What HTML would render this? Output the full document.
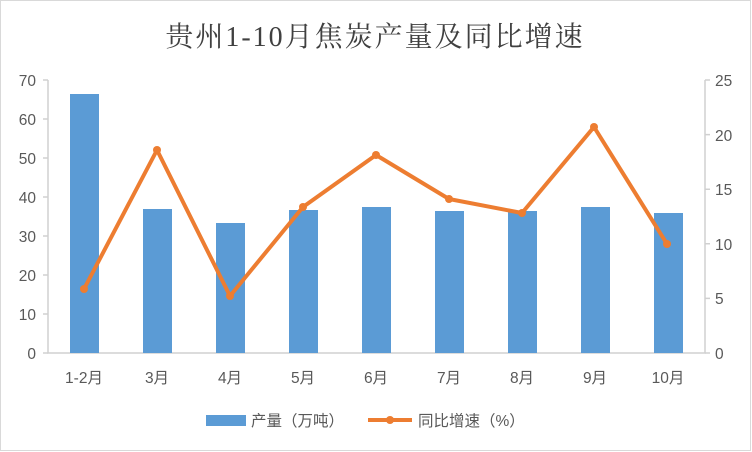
<!DOCTYPE html>
<html><head><meta charset="utf-8"><style>
body{margin:0;background:#fff;}
svg{display:block;}
text{font-family:"Liberation Sans","Noto Sans CJK SC",sans-serif;fill:#595959;font-size:15.5px;}
</style></head><body>
<svg width="752" height="452" viewBox="0 0 752 452">
<rect x="0.5" y="0.5" width="750" height="450" fill="#fff" stroke="#d9d9d9"/>
<text x="375" y="46" text-anchor="middle" style="font-family:'Liberation Serif','Noto Serif CJK SC',serif;font-size:28px;fill:#404040;letter-spacing:2px">贵州1-10月焦炭产量及同比增速</text>
<g stroke="#d0d0d0" stroke-width="1.5" fill="none">
<path d="M48 80V353H705V80"/>
<path d="M43 80H48M43 119H48M43 158H48M43 197H48M43 236H48M43 275H48M43 314H48M43 353H48"/>
<path d="M705 80H710M705 134.6H710M705 189.2H710M705 243.8H710M705 298.4H710M705 353H710"/>
</g>
<g text-anchor="end">
<text x="36" y="86">70</text><text x="36" y="125">60</text><text x="36" y="164">50</text><text x="36" y="203">40</text><text x="36" y="242">30</text><text x="36" y="281">20</text><text x="36" y="320">10</text><text x="36" y="359">0</text>
</g>
<g text-anchor="start">
<text x="715" y="86">25</text><text x="715" y="141">20</text><text x="715" y="195">15</text><text x="715" y="250">10</text><text x="715" y="304">5</text><text x="715" y="359">0</text>
</g>
<g fill="#5b9bd5">
<rect x="70" y="94" width="29" height="259"/>
<rect x="143" y="209" width="29" height="144"/>
<rect x="216" y="223" width="29" height="130"/>
<rect x="289" y="210" width="29" height="143"/>
<rect x="362" y="207" width="29" height="146"/>
<rect x="435" y="211" width="29" height="142"/>
<rect x="508" y="211" width="29" height="142"/>
<rect x="581" y="207" width="29" height="146"/>
<rect x="654" y="213" width="29" height="140"/>
</g>
<polyline points="84,289 157,150 230,296 303,207 376,155 449,199 522,213 594,127 667,244" fill="none" stroke="#ed7d31" stroke-width="4" stroke-linejoin="round"/>
<g fill="#ed7d31">
<circle cx="84" cy="289" r="4"/><circle cx="157" cy="150" r="4"/><circle cx="230" cy="296" r="4"/><circle cx="303" cy="207" r="4"/><circle cx="376" cy="155" r="4"/><circle cx="449" cy="199" r="4"/><circle cx="522" cy="213" r="4"/><circle cx="594" cy="127" r="4"/><circle cx="667" cy="244" r="4"/>
</g>
<g text-anchor="middle">
<text x="84" y="383">1-2月</text><text x="157" y="383">3月</text><text x="230" y="383">4月</text><text x="303" y="383">5月</text><text x="376" y="383">6月</text><text x="449" y="383">7月</text><text x="522" y="383">8月</text><text x="595" y="383">9月</text><text x="668" y="383">10月</text>
</g>
<rect x="206" y="415" width="40" height="11" fill="#5b9bd5"/>
<text x="251" y="426">产量（万吨）</text>
<line x1="368" y1="420" x2="412" y2="420" stroke="#ed7d31" stroke-width="4"/>
<circle cx="390" cy="420" r="4" fill="#ed7d31"/>
<text x="418" y="426">同比增速（%）</text>
</svg>
</body></html>
